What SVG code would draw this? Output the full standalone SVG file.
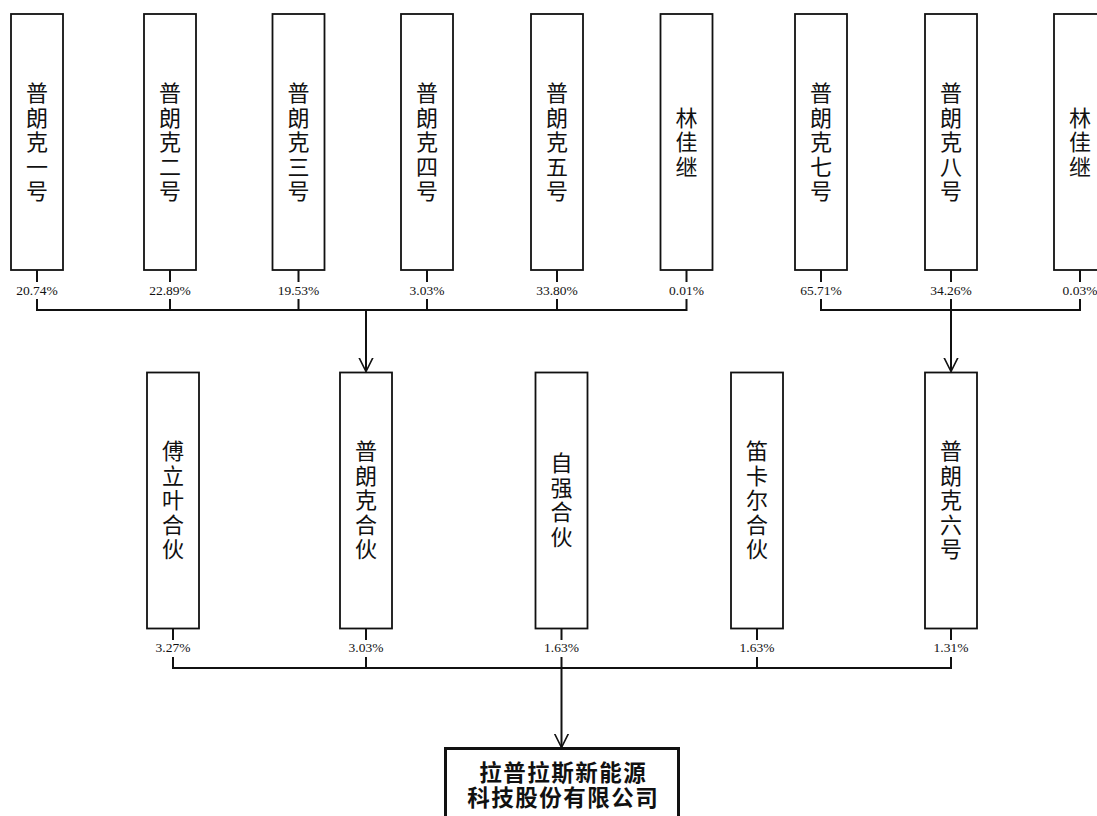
<svg xmlns="http://www.w3.org/2000/svg" width="1097" height="816" viewBox="0 0 1097 816">
<defs>
<style>
.box{fill:#fff;stroke:#111;stroke-width:1.8}
.main{fill:#fff;stroke:#111;stroke-width:3}
.v{font-family:"Liberation Serif","Noto Sans CJK SC","Noto Sans CJK JP",serif;font-size:22px;fill:#111;text-anchor:middle}
.pct{font-family:"Liberation Serif","Times New Roman",serif;font-size:13.5px;fill:#111;text-anchor:middle}
.ttl{font-family:"Liberation Serif","Noto Sans CJK SC","Noto Sans CJK JP",serif;font-size:22.5px;font-weight:bold;fill:#111;text-anchor:middle;letter-spacing:1.5px}
.ln{fill:none;stroke:#111;stroke-width:2}
</style>
<marker id="arr" markerUnits="userSpaceOnUse" markerWidth="16" markerHeight="16" viewBox="0 0 16 16" refX="14" refY="8" orient="auto">
<path d="M0,1 L14,8 L0,15" fill="none" stroke="#111" stroke-width="1.6"/>
</marker>
</defs>
<rect width="1097" height="816" fill="#fff"/>

<g id="n1"><rect class="box" x="11" y="14" width="52" height="256"/>
<text class="v"><tspan x="37" y="101">普</tspan><tspan x="37" y="125.5">朗</tspan><tspan x="37" y="150">克</tspan><tspan x="37" y="174.5">一</tspan><tspan x="37" y="199">号</tspan></text>
<text class="pct" x="37" y="295">20.74%</text></g>

<g id="n2"><rect class="box" x="144" y="14" width="52" height="256"/>
<text class="v"><tspan x="170" y="101">普</tspan><tspan x="170" y="125.5">朗</tspan><tspan x="170" y="150">克</tspan><tspan x="170" y="174.5">二</tspan><tspan x="170" y="199">号</tspan></text>
<text class="pct" x="170" y="295">22.89%</text></g>

<g id="n3"><rect class="box" x="272.5" y="14" width="52" height="256"/>
<text class="v"><tspan x="298.5" y="101">普</tspan><tspan x="298.5" y="125.5">朗</tspan><tspan x="298.5" y="150">克</tspan><tspan x="298.5" y="174.5">三</tspan><tspan x="298.5" y="199">号</tspan></text>
<text class="pct" x="298.5" y="295">19.53%</text></g>

<g id="n4"><rect class="box" x="401" y="14" width="52" height="256"/>
<text class="v"><tspan x="427" y="101">普</tspan><tspan x="427" y="125.5">朗</tspan><tspan x="427" y="150">克</tspan><tspan x="427" y="174.5">四</tspan><tspan x="427" y="199">号</tspan></text>
<text class="pct" x="427" y="295">3.03%</text></g>

<g id="n5"><rect class="box" x="531" y="14" width="52" height="256"/>
<text class="v"><tspan x="557" y="101">普</tspan><tspan x="557" y="125.5">朗</tspan><tspan x="557" y="150">克</tspan><tspan x="557" y="174.5">五</tspan><tspan x="557" y="199">号</tspan></text>
<text class="pct" x="557" y="295">33.80%</text></g>

<g id="n6"><rect class="box" x="660.5" y="14" width="52" height="256"/>
<text class="v"><tspan x="686.5" y="125.5">林</tspan><tspan x="686.5" y="150">佳</tspan><tspan x="686.5" y="174.5">继</tspan></text>
<text class="pct" x="686.5" y="295">0.01%</text></g>

<g id="n7"><rect class="box" x="795" y="14" width="52" height="256"/>
<text class="v"><tspan x="821" y="101">普</tspan><tspan x="821" y="125.5">朗</tspan><tspan x="821" y="150">克</tspan><tspan x="821" y="174.5">七</tspan><tspan x="821" y="199">号</tspan></text>
<text class="pct" x="821" y="295">65.71%</text></g>

<g id="n8"><rect class="box" x="925" y="14" width="52" height="256"/>
<text class="v"><tspan x="951" y="101">普</tspan><tspan x="951" y="125.5">朗</tspan><tspan x="951" y="150">克</tspan><tspan x="951" y="174.5">八</tspan><tspan x="951" y="199">号</tspan></text>
<text class="pct" x="951" y="295">34.26%</text></g>

<g id="n9"><rect class="box" x="1054" y="14" width="52" height="256"/>
<text class="v"><tspan x="1080" y="125.5">林</tspan><tspan x="1080" y="150">佳</tspan><tspan x="1080" y="174.5">继</tspan></text>
<text class="pct" x="1080" y="295">0.03%</text></g>

<g id="m1"><rect class="box" x="147" y="372.5" width="52" height="256"/>
<text class="v"><tspan x="173" y="459">傅</tspan><tspan x="173" y="483.5">立</tspan><tspan x="173" y="508">叶</tspan><tspan x="173" y="532.5">合</tspan><tspan x="173" y="557">伙</tspan></text>
<text class="pct" x="173" y="652">3.27%</text></g>

<g id="m2"><rect class="box" x="340" y="372.5" width="52" height="256"/>
<text class="v"><tspan x="366" y="459">普</tspan><tspan x="366" y="483.5">朗</tspan><tspan x="366" y="508">克</tspan><tspan x="366" y="532.5">合</tspan><tspan x="366" y="557">伙</tspan></text>
<text class="pct" x="366" y="652">3.03%</text></g>

<g id="m3"><rect class="box" x="535.5" y="372.5" width="52" height="256"/>
<text class="v"><tspan x="561.5" y="471.25">自</tspan><tspan x="561.5" y="495.75">强</tspan><tspan x="561.5" y="520.25">合</tspan><tspan x="561.5" y="544.75">伙</tspan></text>
<text class="pct" x="561.5" y="652">1.63%</text></g>

<g id="m4"><rect class="box" x="731" y="372.5" width="52" height="256"/>
<text class="v"><tspan x="757" y="459">笛</tspan><tspan x="757" y="483.5">卡</tspan><tspan x="757" y="508">尔</tspan><tspan x="757" y="532.5">合</tspan><tspan x="757" y="557">伙</tspan></text>
<text class="pct" x="757" y="652">1.63%</text></g>

<g id="m5"><rect class="box" x="925" y="372.5" width="52" height="256"/>
<text class="v"><tspan x="951" y="459">普</tspan><tspan x="951" y="483.5">朗</tspan><tspan x="951" y="508">克</tspan><tspan x="951" y="532.5">六</tspan><tspan x="951" y="557">号</tspan></text>
<text class="pct" x="951" y="652">1.31%</text></g>

<g id="target"><rect class="main" x="445.5" y="748.5" width="233" height="80"/>
<text class="ttl" x="563.25" y="780.5">拉普拉斯新能源</text>
<text class="ttl" x="563.25" y="805.5">科技股份有限公司</text></g>

<g id="connectors">
<path class="ln" d="M37,270V282M170,270V282M298.5,270V282M427,270V282M557,270V282M686.5,270V282"/>
<path class="ln" d="M37,299V310H686.5V299M170,299V310M298.5,299V310M427,299V310M557,299V310"/>
<path class="ln" d="M366,310V371.5" marker-end="url(#arr)"/>
<path class="ln" d="M821,270V282M951,270V282M1080,270V282"/>
<path class="ln" d="M821,299V310H1080V299M951,299V310"/>
<path class="ln" d="M951,310V371.5" marker-end="url(#arr)"/>
<path class="ln" d="M173,628.5V640M366,628.5V640M561.5,628.5V640M757,628.5V640M951,628.5V640"/>
<path class="ln" d="M173,657V668H951V657M366,657V668M757,657V668"/>
<path class="ln" d="M561.5,657V747.5" marker-end="url(#arr)"/>
</g>
</svg>
